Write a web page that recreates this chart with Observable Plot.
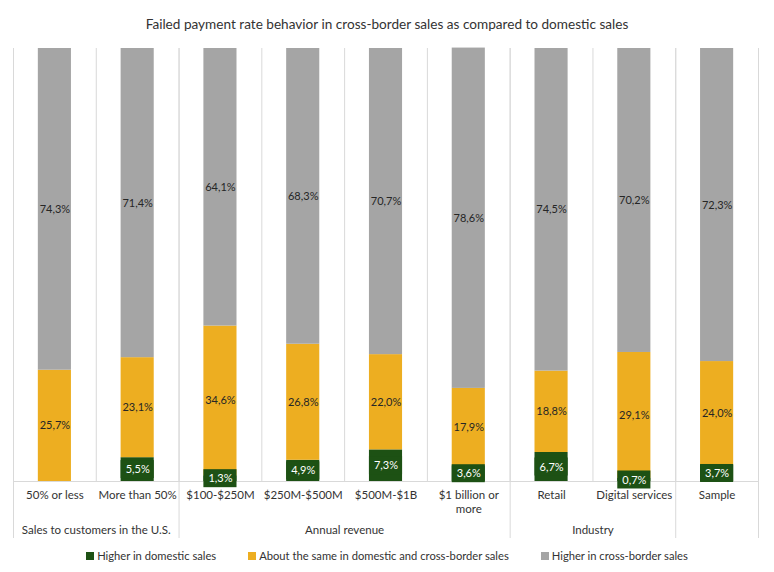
<!DOCTYPE html>
<html>
<head>
<meta charset="utf-8">
<script src="https://cdn.jsdelivr.net/npm/d3@7"></script>
<script src="https://cdn.jsdelivr.net/npm/@observablehq/plot@0.6"></script>
<style>
  body { margin: 0; background: #fff; font-family: Lato, "Open Sans", sans-serif; }
  #wrap { width: 774px; }
  #title { height: 40px; box-sizing: border-box; padding-top: 14px; line-height: 20px; text-align: center; font-size: 13.6px; color: #333; }
  #legend { display: flex; justify-content: center; gap: 32px; line-height: 20px; font-size: 11.2px; color: #333; }
  #legend span.item { display: flex; align-items: center; }
  #legend i { display: inline-block; width: 8px; height: 8px; margin-right: 3px; }
</style>
</head>
<body>
<div id="wrap">
  <div id="title">Failed payment rate behavior in cross-border sales as compared to domestic sales</div>
  <div id="chart"></div>
  <div id="legend"></div>
</div>
<script>
const categories = ["50% or less", "More than 50%", "$100-$250M", "$250M-$500M", "$500M-$1B", "$1 billion or more", "Retail", "Digital services", "Sample"];
const tickLabels = ["50% or less", "More than 50%", "$100-$250M", "$250M-$500M", "$500M-$1B", "$1 billion or\nmore", "Retail", "Digital services", "Sample"];
const higherDomestic = [0, 5.5, 1.3, 4.9, 7.3, 3.6, 6.7, 0.7, 3.7];
const aboutSame = [25.7, 23.1, 34.6, 26.8, 22.0, 17.9, 18.8, 29.1, 24.0];
const higherCross = [74.3, 71.4, 64.1, 68.3, 70.7, 78.6, 74.5, 70.2, 72.3];
const groupLabels = ["Sales to customers in the U.S.", "Annual revenue", "Industry", ""];
const groupSizes = [2, 4, 2, 1];
const seriesNames = ["Higher in domestic sales", "About the same in domestic and cross-border sales", "Higher in cross-border sales"];
const seriesColors = ["#1d5114", "#edae21", "#a5a5a5"];
const labelColors = ["#ffffff", "#262626", "#262626"];

const W = 774, ML = 13, MR = 16, H = 506, MT = 8, MB = 8;
const yTop = 8, yBase = 441;
const step = (W - ML - MR) / categories.length;
const inset = step * 0.3;
const fmt = v => v.toFixed(1).replace(".", ",") + "%";

// stacked rows
const seriesValues = [higherDomestic, aboutSame, higherCross];
const rows = [];
categories.forEach((c, i) => {
  let acc = 0;
  seriesValues.forEach((vals, s) => {
    const v = vals[i];
    rows.push({cat: c, series: seriesNames[s], s, value: v, y1: acc, y2: acc + v, mid: acc + v / 2});
    acc += v;
  });
});
const shown = rows.filter(r => r.value > 0);
const greenRows = shown.filter(r => r.s === 0);
const boxHalf = 9 * 100 / (yBase - yTop); // 9px half-height label box, in data units

// boundaries
const boundaries = d3.range(categories.length + 1);
const groupBounds = [0];
groupSizes.forEach(n => groupBounds.push(groupBounds[groupBounds.length - 1] + n));
const bx = b => categories[Math.min(b, categories.length - 1)];
const bdx = b => (b >= categories.length ? step / 2 : -step / 2);

// group label anchors
const groups = [];
let start = 0;
groupSizes.forEach((n, g) => {
  const c = start + n / 2;
  const idx = Math.min(Math.floor(c), categories.length - 1);
  if (groupLabels[g]) groups.push({label: groupLabels[g], cat: categories[idx], dx: (c - idx - 0.5) * step});
  start += n;
});

const ticks = categories.map((c, i) => ({cat: c, label: tickLabels[i]}));

const plot = Plot.plot({
  width: W, height: H,
  marginLeft: ML, marginRight: MR, marginTop: MT, marginBottom: MB,
  style: {fontFamily: "Lato, 'Open Sans', sans-serif", background: "#fff", overflow: "visible"},
  x: {domain: categories, padding: 0, round: false, axis: null},
  y: {domain: [0, 100], range: [yBase, yTop], axis: null},
  color: {domain: seriesNames, range: seriesColors},
  marks: [
    // category separators above baseline
    ...boundaries.map(b => Plot.ruleX([b], {x: () => bx(b), y1: 0, y2: 100, dx: bdx(b), stroke: "#d9d9d9", strokeWidth: 1})),
    // group separators full height
    ...groupBounds.map(b => Plot.ruleX([b], {x: () => bx(b), dx: bdx(b), stroke: "#d9d9d9", strokeWidth: 1})),
    Plot.ruleY([0], {stroke: "#d9d9d9", strokeWidth: 1}),
    Plot.barY(shown, {x: "cat", y1: "y1", y2: "y2", fill: "series", insetLeft: inset, insetRight: inset}),
    // green label background boxes
    Plot.barY(greenRows, {x: "cat", y1: d => d.mid - boxHalf, y2: d => d.mid + boxHalf, fill: seriesColors[0], insetLeft: inset, insetRight: inset}),
    Plot.text(shown, {x: "cat", y: "mid", text: d => fmt(d.value), fill: d => labelColors[d.s], fontSize: 11}),
    Plot.text(ticks, {x: "cat", y: () => 0, text: "label", dy: 8, lineAnchor: "top", lineHeight: 1.22, fill: "#333", fontSize: 11.5}),
    ...groups.map(g => Plot.text([g], {x: "cat", y: () => 0, text: "label", dx: g.dx, dy: 49, fill: "#333", fontSize: 11.5}))
  ]
});
document.getElementById("chart").appendChild(plot);

const legend = d3.select("#legend");
seriesNames.forEach((n, s) => {
  const it = legend.append("span").attr("class", "item");
  it.append("i").style("background", seriesColors[s]);
  it.append("span").text(n);
});
</script>
</body>
</html>
